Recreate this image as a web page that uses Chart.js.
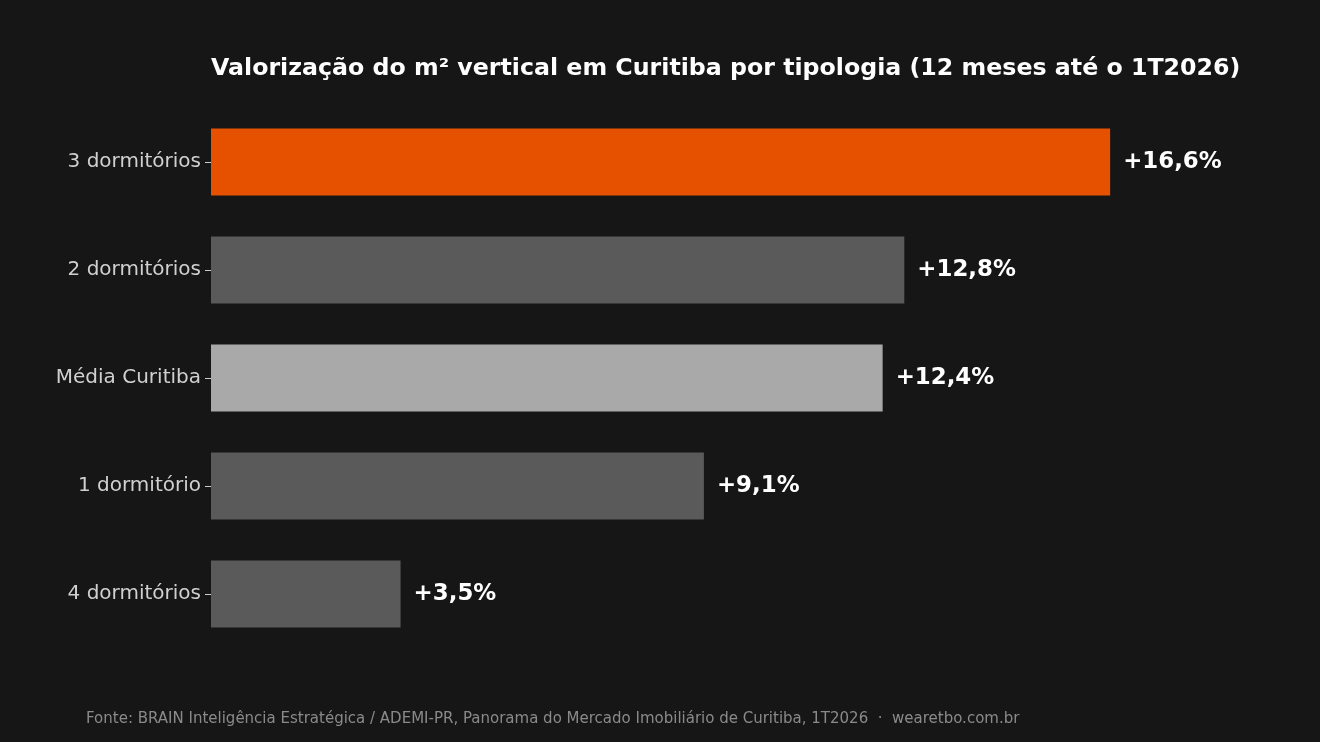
<!DOCTYPE html>
<html>
<head>
<meta charset="utf-8">
<script src="https://cdn.jsdelivr.net/npm/chart.js@4/dist/chart.umd.min.js"></script>
<style>
  html, body { margin: 0; padding: 0; background: #161616; }
  #wrap { width: 1320px; height: 742px; }
</style>
</head>
<body>
<div id="wrap"><canvas id="chart" width="1320" height="742"></canvas></div>
<script>
const TITLE = 'Valorização do m² vertical em Curitiba por tipologia (12 meses até o 1T2026)';
const FOOTER = 'Fonte: BRAIN Inteligência Estratégica / ADEMI-PR, Panorama do Mercado Imobiliário de Curitiba, 1T2026  ·  wearetbo.com.br';
const categories = ['3 dormitórios', '2 dormitórios', 'Média Curitiba', '1 dormitório', '4 dormitórios'];
const values = [16.6, 12.8, 12.4, 9.1, 3.5];
const barColors = ['#e65100', '#5a5a5a', '#a9a9a9', '#5a5a5a', '#5a5a5a'];

function fmtPct(v) {
  return '+' + v.toFixed(1).replace('.', ',') + '%';
}

// titulo, rodape e rotulos de valor desenhados direto no canvas
const extras = {
  id: 'extras',
  afterDraw(chart) {
    const ctx = chart.ctx;
    const area = chart.chartArea;
    ctx.save();
    ctx.fillStyle = '#ffffff';
    ctx.font = 'bold 23.7px "DejaVu Sans"';
    ctx.textAlign = 'left';
    ctx.textBaseline = 'middle';
    ctx.fillText(TITLE, area.left, 69);

    ctx.font = 'bold 22.9px "DejaVu Sans"';
    const meta = chart.getDatasetMeta(0);
    meta.data.forEach((bar, i) => {
      ctx.fillText(fmtPct(values[i]), bar.x + 13, bar.y);
    });

    ctx.fillStyle = '#8a8a8a';
    ctx.font = '15px "DejaVu Sans"';
    ctx.fillText(FOOTER, 86, 719);
    ctx.restore();
  }
};

const ctx = document.getElementById('chart').getContext('2d');
new Chart(ctx, {
  type: 'bar',
  data: {
    labels: categories,
    datasets: [{
      data: values,
      backgroundColor: barColors,
      borderWidth: 0,
      categoryPercentage: 0.62,
      barPercentage: 1.0,
    }],
  },
  options: {
    indexAxis: 'y',
    responsive: false,
    animation: false,
    layout: { padding: { left: 0, right: 75, top: 108, bottom: 94 } },
    plugins: { legend: { display: false }, tooltip: { enabled: false } },
    scales: {
      x: { display: false, min: 0, max: 19.09 },
      y: {
        afterFit(scale) { scale.width = 211; },
        border: { display: false },
        grid: {
          offset: false,
          drawOnChartArea: false,
          drawTicks: true,
          tickLength: 6,
          color: '#cccccc',
        },
        ticks: {
          color: '#d0d0d0',
          font: { family: 'DejaVu Sans', size: 20 },
          padding: 4,
        },
      },
    },
  },
  plugins: [extras],
});
</script>
</body>
</html>
